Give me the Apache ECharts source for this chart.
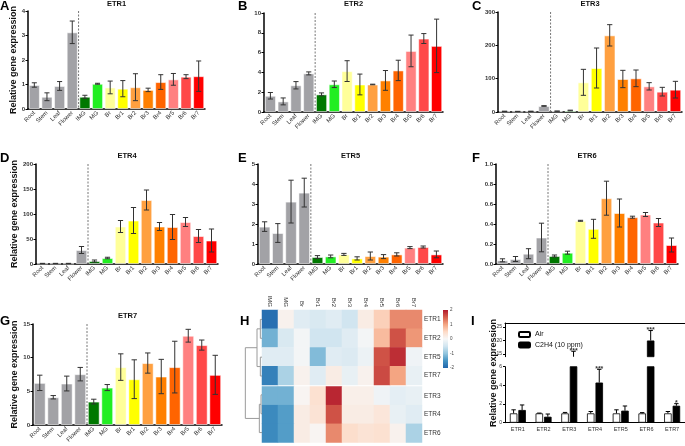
<!DOCTYPE html>
<html>
<head>
<meta charset="utf-8">
<title>ETR expression</title>
<script src="https://cdn.jsdelivr.net/npm/echarts@6.0.0/dist/echarts.min.js"></script>
<style>
  html, body { margin: 0; padding: 0; background: #fff; }
  #chart { width: 685px; height: 446px; }
</style>
</head>
<body>
<div id="chart"></div>
<script>
// ---- data ----
var tissues = ['Root', 'Stem', 'Leaf', 'Flower', 'IMG', 'MG', 'Br', 'Br1', 'Br2', 'Br3', 'Br4', 'Br5', 'Br6', 'Br7'];
var tissueColors = ['#a2a2a6', '#a2a2a6', '#a2a2a6', '#a2a2a6', '#007800', '#22ee22', '#ffff99', '#ffff00',
  '#ffa040', '#ff8000', '#ff6400', '#ff8080', '#ff4848', '#ff0000'];

var etr1Mean = [0.98, 0.5, 0.94, 3.13, 0.5, 1.03, 0.88, 0.83, 0.89, 0.78, 1.1, 1.21, 1.32, 1.34];
var etr1Sd = [0.09, 0.16, 0.18, 0.46, 0.06, 0.02, 0.26, 0.33, 0.55, 0.07, 0.3, 0.24, 0.08, 0.62];
var etr2Mean = [1.64, 1.07, 2.7, 3.9, 1.78, 2.8, 4.13, 2.78, 2.78, 3.19, 4.2, 6.17, 7.42, 6.68];
var etr2Sd = [0.33, 0.35, 0.37, 0.15, 0.15, 0.33, 1.05, 1.05, 0.03, 1.0, 1.03, 1.6, 0.5, 2.7];
var etr3Mean = [2, 1.5, 2, 18, 2.5, 4.5, 89, 132, 230, 99, 101, 77, 61, 67];
var etr3Sd = [0.5, 0.5, 0.5, 1, 0.5, 1, 39, 60, 32, 26, 25, 11, 13, 25];
var etr4Mean = [1, 1, 1, 28, 6, 12, 75, 87, 128, 75, 74, 84, 56, 47];
var etr4Sd = [0.3, 0.3, 0.3, 7, 2, 1.5, 12, 26, 20, 8, 25, 9, 13, 23];
var etr5Mean = [1.87, 1.55, 3.12, 3.57, 0.35, 0.38, 0.48, 0.28, 0.4, 0.37, 0.48, 0.82, 0.85, 0.48];
var etr5Sd = [0.24, 0.47, 1.07, 0.72, 0.07, 0.07, 0.05, 0.08, 0.2, 0.1, 0.08, 0.05, 0.05, 0.17];
var etr6Mean = [0.037, 0.05, 0.103, 0.265, 0.08, 0.113, 0.432, 0.352, 0.658, 0.51, 0.468, 0.495, 0.415, 0.19];
var etr6Sd = [0.015, 0.025, 0.05, 0.143, 0.01, 0.015, 0.005, 0.095, 0.17, 0.14, 0.01, 0.02, 0.04, 0.07];
var etr7Mean = [6.26, 4.12, 6.16, 7.55, 3.48, 5.56, 8.6, 6.8, 9.2, 7.2, 8.6, 13.26, 11.87, 7.45];
var etr7Sd = [1.14, 0.25, 1.1, 1.0, 0.35, 0.45, 1.97, 2.88, 1.5, 2.55, 3.84, 0.95, 0.75, 2.9];

// heatmap (z-scores), rows in cluster order
var heatCols = ['IMG', 'MG', 'Br', 'Br1', 'Br2', 'Br3', 'Br4', 'Br5', 'Br6', 'Br7'];
var heatRowsTop = ['ETR1', 'ETR2', 'ETR5', 'ETR7'];
var heatRowsBottom = ['ETR3', 'ETR4', 'ETR6'];
var heatTop = [
  [-1.9, 0.1, -0.3, -0.4, -0.3, -0.5, 0.2, 0.6, 1.2, 1.2],
  [-1.2, -0.4, -0.05, -0.5, -0.5, -0.3, -0.05, 0.8, 1.6, 1.1],
  [-0.3, -0.3, -0.05, -1.1, -0.3, -0.35, -0.15, 1.6, 1.85, -0.1],
  [-1.7, -0.8, 0.1, -0.3, 0.2, -0.2, 0.1, 1.65, 1.0, -0.2]
];
var heatBottom = [
  [-1.2, -1.2, 0.05, 0.4, 1.9, 0.15, 0.15, -0.1, -0.25, -0.2],
  [-1.6, -1.4, 0.2, 0.35, 1.6, 0.2, 0.2, 0.3, -0.2, -0.3],
  [-1.6, -1.4, 0.2, 0.05, 1.2, 0.45, 0.35, 0.4, 0.1, -0.8]
];
// linkage: [a, b, height]; ids >= 7 refer to earlier merges
var treeMerges = [[0, 1, 0.1], [2, 3, 0.1], [7, 8, 0.3], [4, 5, 0.06], [10, 6, 0.16], [9, 11, 1.0]];
var heatPalette = ['#2166ac', '#4393c3', '#92c5de', '#d1e5f0', '#f7f7f7', '#fddbc7', '#f4a582', '#d6604d', '#b2182b'];

// ethylene treatment
var ethGenes = ['ETR1', 'ETR2', 'ETR3', 'ETR4', 'ETR5', 'ETR6', 'ETR7'];
var airMean = [1, 1, 1, 1, 1, 1, 1];
var airSd = [0.38, 0.03, 0.1, 0.2, 0.38, 0.08, 0.2];
var ethMean = [1.36, 0.64, 11, 4.3, 1.29, 20, 1.82];
var ethSd = [0.54, 0.29, 5, 1.42, 0.5, 3.7, 0.22];
var ethSig = ['', '', '***', '***', '', '***', '*'];

// ---- layout ----
var FONT = 'Liberation Sans, Arial, sans-serif';
var panels = [
  { gene: 'ETR1', mean: etr1Mean, sd: etr1Sd, max: 4, step: 1, rect: [28, 11, 177, 98], nameGap: 8, letter: 'A', lx: 0, ly: 0, ty: 0 },
  { gene: 'ETR2', mean: etr2Mean, sd: etr2Sd, max: 10, step: 2, rect: [264, 13, 179, 99], letter: 'B', lx: 238, ly: 0, ty: 0 },
  { gene: 'ETR3', mean: etr3Mean, sd: etr3Sd, max: 300, step: 100, rect: [498, 12, 184, 100], letter: 'C', lx: 472, ly: 0, ty: 0 },
  { gene: 'ETR4', mean: etr4Mean, sd: etr4Sd, max: 200, step: 50, rect: [36, 164, 182, 100], nameGap: 14, letter: 'D', lx: 0, ly: 152, ty: 152 },
  { gene: 'ETR5', mean: etr5Mean, sd: etr5Sd, max: 5, step: 1, rect: [258, 164, 185, 100], letter: 'E', lx: 238, ly: 152, ty: 152 },
  { gene: 'ETR6', mean: etr6Mean, sd: etr6Sd, max: 1, step: 0.2, dec: 1, rect: [496, 164, 182, 100], letter: 'F', lx: 472, ly: 152, ty: 152 },
  { gene: 'ETR7', mean: etr7Mean, sd: etr7Sd, max: 15, step: 5, rect: [33, 324, 189, 101], nameGap: 11, letter: 'G', lx: 0, ly: 315, ty: 312 }
];

var grids = [], xAxes = [], yAxes = [], series = [], graphics = [];

function errorBarItem(params, api) {
  var x = api.value(0), m = api.value(1), s = api.value(2);
  var hi = api.coord([x, m + s]);
  var lo = api.coord([x, m - s]);
  var half = api.size([1, 0])[0] * 0.2;
  var st = { stroke: '#333', lineWidth: 1, fill: 'none' };
  return {
    type: 'group',
    children: [
      { type: 'line', shape: { x1: hi[0], y1: hi[1], x2: lo[0], y2: lo[1] }, style: st },
      { type: 'line', shape: { x1: hi[0] - half, y1: hi[1], x2: hi[0] + half, y2: hi[1] }, style: st },
      { type: 'line', shape: { x1: lo[0] - half, y1: lo[1], x2: lo[0] + half, y2: lo[1] }, style: st }
    ]
  };
}

function dividerItem(params, api) {
  var p = api.coord([api.value(0), 0]);
  var x = p[0] + api.size([1, 0])[0] / 2;
  var cs = params.coordSys;
  return {
    type: 'line',
    shape: { x1: x, y1: cs.y, x2: x, y2: cs.y + cs.height },
    style: { stroke: '#777', lineWidth: 1, lineDash: [2, 1.5], fill: 'none' }
  };
}

panels.forEach(function (p, i) {
  grids.push({ left: p.rect[0], top: p.rect[1], width: p.rect[2], height: p.rect[3], outerBoundsMode: 'none', containLabel: false });
  xAxes.push({
    gridIndex: i, type: 'category', data: tissues,
    axisLine: { lineStyle: { color: '#000', width: 1.5 } },
    axisTick: { show: false },
    axisLabel: { rotate: 45, fontSize: 6, margin: 3, color: '#333', interval: 0, fontFamily: FONT }
  });
  yAxes.push({
    gridIndex: i, type: 'value', min: 0, max: p.max, interval: p.step,
    axisLine: { show: true, lineStyle: { color: '#000', width: 1.5 } },
    axisTick: { show: true, length: 2.5, lineStyle: { color: '#000' } },
    splitLine: { show: false },
    axisLabel: {
      fontSize: 6, margin: 3, color: '#333', fontWeight: 'bold', fontFamily: FONT,
      formatter: function (v) { return p.dec ? v.toFixed(p.dec) : v; }
    },
    name: p.nameGap ? 'Relative gene expression' : '',
    nameLocation: 'middle', nameGap: p.nameGap || 0,
    nameTextStyle: { fontSize: 9, fontWeight: 'bold', color: '#111', fontFamily: FONT }
  });
  series.push({
    type: 'bar', xAxisIndex: i, yAxisIndex: i, barCategoryGap: '12%',
    data: p.mean.map(function (v, j) {
      return { value: v, itemStyle: { color: tissueColors[j] } };
    }),
    itemStyle: { borderColor: 'rgba(255,255,255,0.55)', borderWidth: 1 },
    silent: true
  });
  series.push({
    type: 'custom', xAxisIndex: i, yAxisIndex: i, renderItem: errorBarItem, z: 5, silent: true,
    encode: { x: 0, y: 1 },
    data: p.mean.map(function (v, j) { return [j, v, p.sd[j]]; })
  });
  series.push({
    type: 'custom', xAxisIndex: i, yAxisIndex: i, renderItem: dividerItem, z: 4, silent: true,
    encode: { x: 0, y: 1 },
    data: [[tissues.indexOf('Flower'), 0]]
  });
  graphics.push({
    type: 'text', x: p.rect[0] + p.rect[2] / 2, y: p.ty,
    style: { text: p.gene, textAlign: 'center', textVerticalAlign: 'top', font: 'bold 7.5px ' + FONT, fill: '#111' }
  });
  graphics.push({
    type: 'text', x: p.lx, y: p.ly,
    style: { text: p.letter, textAlign: 'left', textVerticalAlign: 'top', font: 'bold 13px ' + FONT, fill: '#000' }
  });
});

// ---- heatmap H ----
var hmLeft = 262, hmWidth = 160;
var hmBlocks = [
  { rows: heatRowsTop, vals: heatTop, top: 310, height: 75, labels: true },
  { rows: heatRowsBottom, vals: heatBottom, top: 386.5, height: 56, labels: false }
];
var heatSeriesIds = [];
hmBlocks.forEach(function (b, bi) {
  var gi = grids.length;
  grids.push({ left: hmLeft, top: b.top, width: hmWidth, height: b.height, outerBoundsMode: 'none', containLabel: false });
  xAxes.push({
    gridIndex: gi, type: 'category', data: heatCols, position: 'top',
    axisLine: { show: false }, axisTick: { show: false }, splitArea: { show: false },
    axisLabel: { show: b.labels, rotate: 90, fontSize: 6, margin: 3, color: '#333', fontFamily: FONT }
  });
  yAxes.push({
    gridIndex: gi, type: 'category', data: b.rows, position: 'right', inverse: true,
    axisLine: { show: false }, axisTick: { show: false },
    axisLabel: { fontSize: 6.5, margin: 2, color: '#333', fontFamily: FONT }
  });
  var data = [];
  b.vals.forEach(function (row, r) {
    row.forEach(function (v, c) { data.push([c, r, v]); });
  });
  heatSeriesIds.push('heat' + bi);
  series.push({ id: 'heat' + bi, type: 'heatmap', xAxisIndex: gi, yAxisIndex: gi, data: data, silent: true });
});

// dendrogram
(function () {
  var gi = grids.length;
  grids.push({ left: 245, top: 310, width: 17, height: 132, outerBoundsMode: 'none', containLabel: false });
  xAxes.push({ gridIndex: gi, type: 'value', min: 0, max: 1.02, inverse: true, show: false });
  yAxes.push({ gridIndex: gi, type: 'value', min: 0, max: 7, inverse: true, show: false });
  var nLeaf = heatRowsTop.length + heatRowsBottom.length;
  var nodes = [];
  for (var k = 0; k < nLeaf; k++) nodes.push({ y: k + 0.5, h: 0 });
  var segs = [];
  treeMerges.forEach(function (m) {
    var a = nodes[m[0]], b = nodes[m[1]];
    segs.push([a.h, a.y, b.h, b.y, m[2]]);
    nodes.push({ y: (a.y + b.y) / 2, h: m[2] });
  });
  series.push({
    id: 'tree', type: 'custom', xAxisIndex: gi, yAxisIndex: gi, silent: true,
    renderItem: function (params, api) {
      var h = api.value(4);
      var p1 = api.coord([api.value(0), api.value(1)]);
      var p2 = api.coord([h, api.value(1)]);
      var p3 = api.coord([h, api.value(3)]);
      var p4 = api.coord([api.value(2), api.value(3)]);
      var st = { stroke: '#9a9a9a', lineWidth: 1, fill: 'none' };
      return {
        type: 'group',
        children: [
          { type: 'line', shape: { x1: p1[0], y1: p1[1], x2: p2[0], y2: p2[1] }, style: st },
          { type: 'line', shape: { x1: p2[0], y1: p2[1], x2: p3[0], y2: p3[1] }, style: st },
          { type: 'line', shape: { x1: p3[0], y1: p3[1], x2: p4[0], y2: p4[1] }, style: st }
        ]
      };
    },
    data: segs
  });
})();

// colour bar
(function () {
  var gi = grids.length;
  grids.push({ left: 443, top: 310, width: 5, height: 58, outerBoundsMode: 'none', containLabel: false });
  xAxes.push({ gridIndex: gi, type: 'category', data: ['z'], show: false });
  yAxes.push({
    gridIndex: gi, type: 'value', min: -2, max: 2, interval: 1, position: 'right',
    axisLine: { show: false }, axisTick: { show: false }, splitLine: { show: false },
    axisLabel: { fontSize: 4.5, margin: 2, color: '#444', fontFamily: FONT }
  });
  var stops = heatPalette.slice().reverse().map(function (c, k, arr) {
    return { offset: k / (arr.length - 1), color: c };
  });
  series.push({
    id: 'colorbar', type: 'custom', xAxisIndex: gi, yAxisIndex: gi, silent: true,
    renderItem: function (params, api) {
      var top = api.coord([0, api.value(2)]);
      var bot = api.coord([0, api.value(1)]);
      var cs = params.coordSys;
      return {
        type: 'rect', shape: { x: cs.x, y: top[1], width: cs.width, height: bot[1] - top[1] },
        style: { fill: new echarts.graphic.LinearGradient(0, 0, 0, 1, stops) }
      };
    },
    data: [[0, -2, 2]]
  });
})();

// ---- panel I (broken y axis) ----
var iLeft = 505, iWidth = 180;
var iBarW = 7.5, iGapPx = 1;
var iOff = (iBarW + iGapPx) / 2;
var iLowerMax = 6;
var iParts = [
  { top: 323, height: 33.7, min: 14, max: 26.5, ticks: [15, 20, 25], upper: true },
  { top: 366.7, height: 56, min: 0, max: iLowerMax, upper: false }
];
iParts.forEach(function (part) {
  var gi = grids.length;
  grids.push({ left: iLeft, top: part.top, width: iWidth, height: part.height, outerBoundsMode: 'none', containLabel: false });
  xAxes.push({
    gridIndex: gi, type: 'category', data: ethGenes, position: part.upper ? 'top' : 'bottom',
    axisLine: { lineStyle: { color: '#000', width: 1 } },
    axisTick: { show: false },
    axisLabel: { show: !part.upper, fontSize: 5.5, margin: 4, color: '#333', fontFamily: FONT }
  });
  var ya = {
    gridIndex: gi, type: 'value', min: part.min, max: part.max,
    axisLine: { show: true, onZero: false, lineStyle: { color: '#000', width: 1 } },
    axisTick: { show: true, length: 2, lineStyle: { color: '#000' } },
    splitLine: { show: false },
    axisLabel: { fontSize: 5, margin: 3, color: '#333', fontFamily: FONT }
  };
  if (part.ticks) {
    ya.axisLabel.customValues = part.ticks;
    ya.axisTick.customValues = part.ticks;
  } else {
    ya.interval = 2;
  }
  yAxes.push(ya);
  var groups = [
    { name: 'Air', mean: airMean, sd: airSd, color: '#fff', off: -iOff },
    { name: 'C2H4 (10 ppm)', mean: ethMean, sd: ethSd, color: '#000', off: iOff }
  ];
  groups.forEach(function (g) {
    series.push({
      type: 'bar', name: g.name, xAxisIndex: gi, yAxisIndex: gi, barWidth: iBarW,
      barGap: (iGapPx / iBarW * 100) + '%',
      itemStyle: { color: g.color, borderColor: '#000', borderWidth: 0.8 },
      data: g.mean, silent: true
    });
  });
  groups.forEach(function (g) {
    series.push({
      type: 'custom', xAxisIndex: gi, yAxisIndex: gi, clip: true, z: 5, silent: true,
      encode: { x: 0, y: 1 },
      renderItem: function (params, api) {
        var x = api.value(0), m = api.value(1), s = api.value(2);
        var lo = api.coord([x, m]);
        var hi = api.coord([x, m + s]);
        var cx = lo[0] + g.off;
        var st = { stroke: '#000', lineWidth: 1, fill: 'none' };
        return {
          type: 'group',
          children: [
            { type: 'line', shape: { x1: cx, y1: lo[1], x2: cx, y2: hi[1] }, style: st },
            { type: 'line', shape: { x1: cx - 2.2, y1: hi[1], x2: cx + 2.2, y2: hi[1] }, style: st }
          ]
        };
      },
      data: g.mean.map(function (v, j) { return [j, v, g.sd[j]]; })
    });
  });
  // significance marks
  var sigData = [];
  ethSig.forEach(function (s, j) {
    var topVal = ethMean[j] + ethSd[j];
    if (s && (topVal > iLowerMax) === part.upper) sigData.push({ value: [j, topVal], name: s });
  });
  series.push({
    type: 'scatter', xAxisIndex: gi, yAxisIndex: gi, symbolSize: 1, silent: true, clip: false,
    itemStyle: { color: 'rgba(0,0,0,0)' },
    label: {
      show: true, position: 'top', distance: 0, offset: [iOff, 3.5],
      formatter: function (d) { return d.name; },
      fontSize: 7, fontWeight: 'bold', color: '#000', fontFamily: FONT
    },
    data: sigData
  });
});

// y axis title spanning both parts of panel I
(function () {
  var gi = grids.length;
  grids.push({ left: iLeft, top: 323, width: iWidth, height: 100, outerBoundsMode: 'none', containLabel: false });
  xAxes.push({ gridIndex: gi, type: 'value', show: false });
  yAxes.push({
    gridIndex: gi, type: 'value',
    axisLine: { show: false }, axisTick: { show: false }, axisLabel: { show: false }, splitLine: { show: false },
    name: 'Relative gene expression', nameLocation: 'middle', nameGap: 7,
    nameTextStyle: { fontSize: 9, fontWeight: 'bold', color: '#111', fontFamily: FONT }
  });
})();

graphics.push({ type: 'text', x: 240, y: 315, style: { text: 'H', textVerticalAlign: 'top', font: 'bold 13px ' + FONT, fill: '#000' } });
graphics.push({ type: 'text', x: 471, y: 315, style: { text: 'I', textVerticalAlign: 'top', font: 'bold 13px ' + FONT, fill: '#000' } });

var myChart = echarts.init(document.getElementById('chart'), null, { renderer: 'canvas' });
var option = {
  animation: false,
  backgroundColor: '#fff',
  textStyle: { fontFamily: FONT },
  legend: {
    data: ['Air', 'C2H4 (10 ppm)'], orient: 'vertical', left: 513, top: 326,
    itemWidth: 11, itemHeight: 5, itemGap: 3.5, selectedMode: false,
    textStyle: { fontSize: 7, color: '#111', fontFamily: FONT }
  },
  grid: grids,
  xAxis: xAxes,
  yAxis: yAxes,
  visualMap: [{ show: false, min: -2, max: 2, dimension: 2, seriesId: heatSeriesIds, inRange: { color: heatPalette } }],
  graphic: { elements: graphics },
  series: series
};
myChart.setOption(option);
</script>
</body>
</html>
